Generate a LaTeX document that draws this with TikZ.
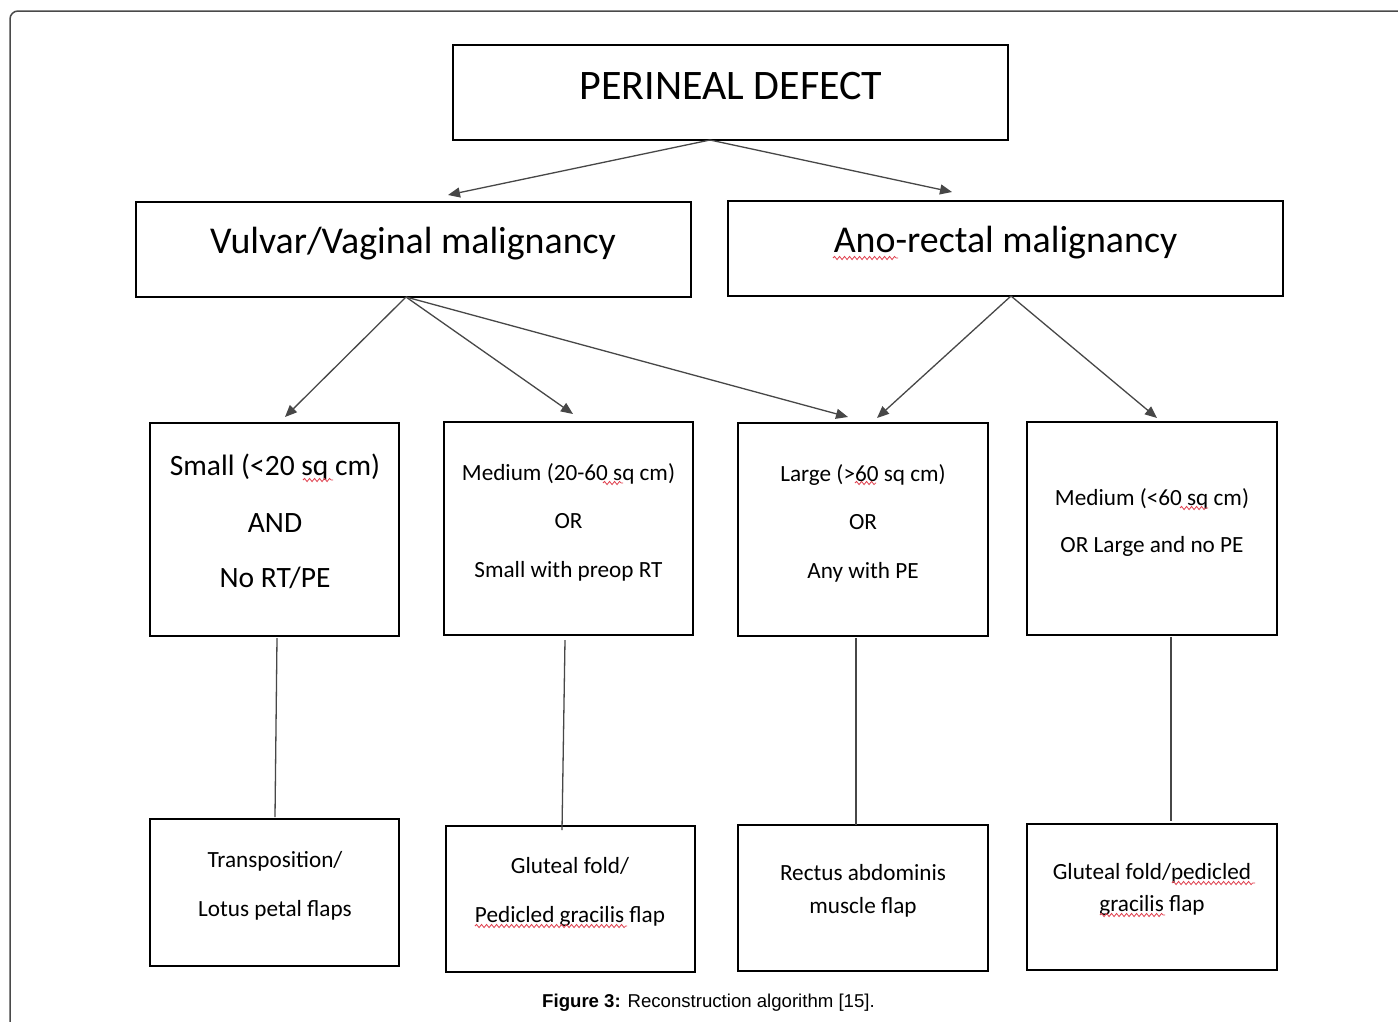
\documentclass[tikz,border=0pt]{standalone}
\usepackage{fontspec}
\setmainfont{Carlito}
\newfontfamily\capfont{Liberation Sans}
\usetikzlibrary{arrows.meta,decorations.pathmorphing,calc}
\definecolor{squigred}{HTML}{E0404E}
\definecolor{framegray}{HTML}{4A4A4A}
\begin{document}
\begin{tikzpicture}[x=1pt,y=-1pt,
  box/.style={draw=black, line width=1.8pt, inner sep=0pt, outer sep=0pt},
  txt/.style={anchor=base, inner sep=0pt, text=black},
  conn/.style={draw=black!72, line width=1.3pt},
  arr/.style={conn, -{Triangle[length=12pt,width=10pt]}},
  squig/.style={draw=squigred, line width=0.8pt, decorate, decoration={snake, amplitude=1.6pt, segment length=5pt}},
  fbig/.style={font=\fontsize{42}{50}\selectfont},
  fmid/.style={font=\fontsize{37.9}{45}\selectfont},
  fsm/.style={font=\fontsize{29.5}{35}\selectfont},
  fnor/.style={font=\fontsize{23.2}{28}\selectfont}]
\useasboundingbox (0,0) rectangle (1398,1021);
\fill[white] (0,0) rectangle (1398,1021);
\begin{scope}
\clip (0,0) rectangle (1398,1021);
\draw[framegray, line width=1.5pt, rounded corners=8pt] (10,1040) -- (10,11) -- (1420,11);
\end{scope}

% boxes
\node[box, minimum width=555pt, minimum height=95pt] (top) at (730.5,92.5) {};
\node[box, minimum width=555pt, minimum height=95pt] (vul) at (413.5,249.5) {};
\node[box, minimum width=555pt, minimum height=95pt] (ano) at (1005.5,248.5) {};
\node[box, minimum width=249pt, minimum height=213pt] (r31) at (274.5,529.5) {};
\node[box, minimum width=249pt, minimum height=213pt] (r32) at (568.5,528.5) {};
\node[box, minimum width=250pt, minimum height=213pt] (r33) at (863,529.5) {};
\node[box, minimum width=250pt, minimum height=213pt] (r34) at (1152,528.5) {};
\node[box, minimum width=249pt, minimum height=147pt] (r41) at (274.5,892.5) {};
\node[box, minimum width=249pt, minimum height=146pt] (r42) at (570.5,899) {};
\node[box, minimum width=250pt, minimum height=146pt] (r43) at (863,898) {};
\node[box, minimum width=250pt, minimum height=146pt] (r44) at (1152,897) {};

% texts
\node[txt, fbig] (ttop) at (731,99) {PERINEAL DEFECT};
\node[txt, fmid] (tvul) at (413,253) {Vulvar/Vaginal malignancy};
\node[txt, fmid] (tano) at (1005.5,252) {Ano-rectal malignancy};

\node[txt, fsm] (t31a) at (275,475) {Small (<20 sq cm)};
\node[txt, fsm] (t31b) at (275,532) {AND};
\node[txt, fsm] (t31c) at (275,587) {No RT/PE};

\node[txt, fnor] (t32a) at (568.5,480) {Medium (20-60 sq cm)};
\node[txt, fnor] (t32b) at (568.5,528) {OR};
\node[txt, fnor] (t32c) at (568.5,577) {Small with preop RT};

\node[txt, fnor] (t33a) at (863,481) {Large (>60 sq cm)};
\node[txt, fnor] (t33b) at (863,529) {OR};
\node[txt, fnor] (t33c) at (863,578) {Any with PE};

\node[txt, fnor] (t34a) at (1152,505) {Medium (<60 sq cm)};
\node[txt, fnor] (t34b) at (1152,552) {OR Large and no PE};

\node[txt, fnor] (t41a) at (275,867) {Transposition/};
\node[txt, fnor] (t41b) at (275,916) {Lotus petal flaps};

\node[txt, fnor] (t42a) at (570,873) {Gluteal fold/};
\node[txt, fnor] (t42b) at (570,922) {Pedicled gracilis flap};

\node[txt, fnor] (t43a) at (863,880) {Rectus abdominis};
\node[txt, fnor] (t43b) at (863,913) {muscle flap};

\node[txt, fnor] (t44a) at (1152,879) {Gluteal fold/pedicled};
\node[txt, fnor] (t44b) at (1152,911) {gracilis flap};

\node[txt, font=\capfont\fontsize{18.6}{22}\selectfont] (cap) at (708.5,1007) {\textbf{Figure 3:} Reconstruction algorithm [15].};

% spell-check squiggles
\draw[squig] (833,258) -- (898,258);
\draw[squig] (303,480) -- (333,480);
\draw[squig] (603,483) -- (623,483);
\draw[squig] (855,483) -- (876,483);
\draw[squig] (1180,508) -- (1208,508);
\draw[squig] (1172,883) -- (1255,883);
\draw[squig] (1100,915) -- (1165,915);
\draw[squig] (475,926) -- (627,926);

% arrow end points
\coordinate (e1) at (448,195);
\coordinate (e2) at (952,192);
\coordinate (e3) at (285,417);
\coordinate (e4) at (573,414);
\coordinate (e5) at (848,417);
\coordinate (e6) at (877,418);
\coordinate (e7) at (1157,418);

\draw[arr] ([xshift=-20.5pt]top.south) -- (e1);
\draw[arr] ([xshift=-20.5pt]top.south) -- (e2);
\draw[arr] ([xshift=-7.5pt]vul.south) -- (e3);
\draw[arr] ([xshift=-7.5pt]vul.south) -- (e4);
\draw[arr] ([xshift=-7.5pt]vul.south) -- (e5);
\draw[arr] ([xshift=5.5pt]ano.south) -- (e6);
\draw[arr] ([xshift=5.5pt]ano.south) -- (e7);

\draw[conn] ([xshift=2.5pt,yshift=-2pt]r31.south) -- ([xshift=0.5pt,yshift=2pt]r41.north);
\draw[conn] ([xshift=-3.5pt,yshift=-5pt]r32.south) -- ([xshift=-8.5pt,yshift=-4pt]r42.north);
\draw[conn] ([xshift=-7pt,yshift=-2pt]r33.south) -- ([xshift=-7pt]r43.north);
\draw[conn] ([xshift=19pt,yshift=-2pt]r34.south) -- ([xshift=19pt,yshift=3pt]r44.north);
\end{tikzpicture}
\end{document}
